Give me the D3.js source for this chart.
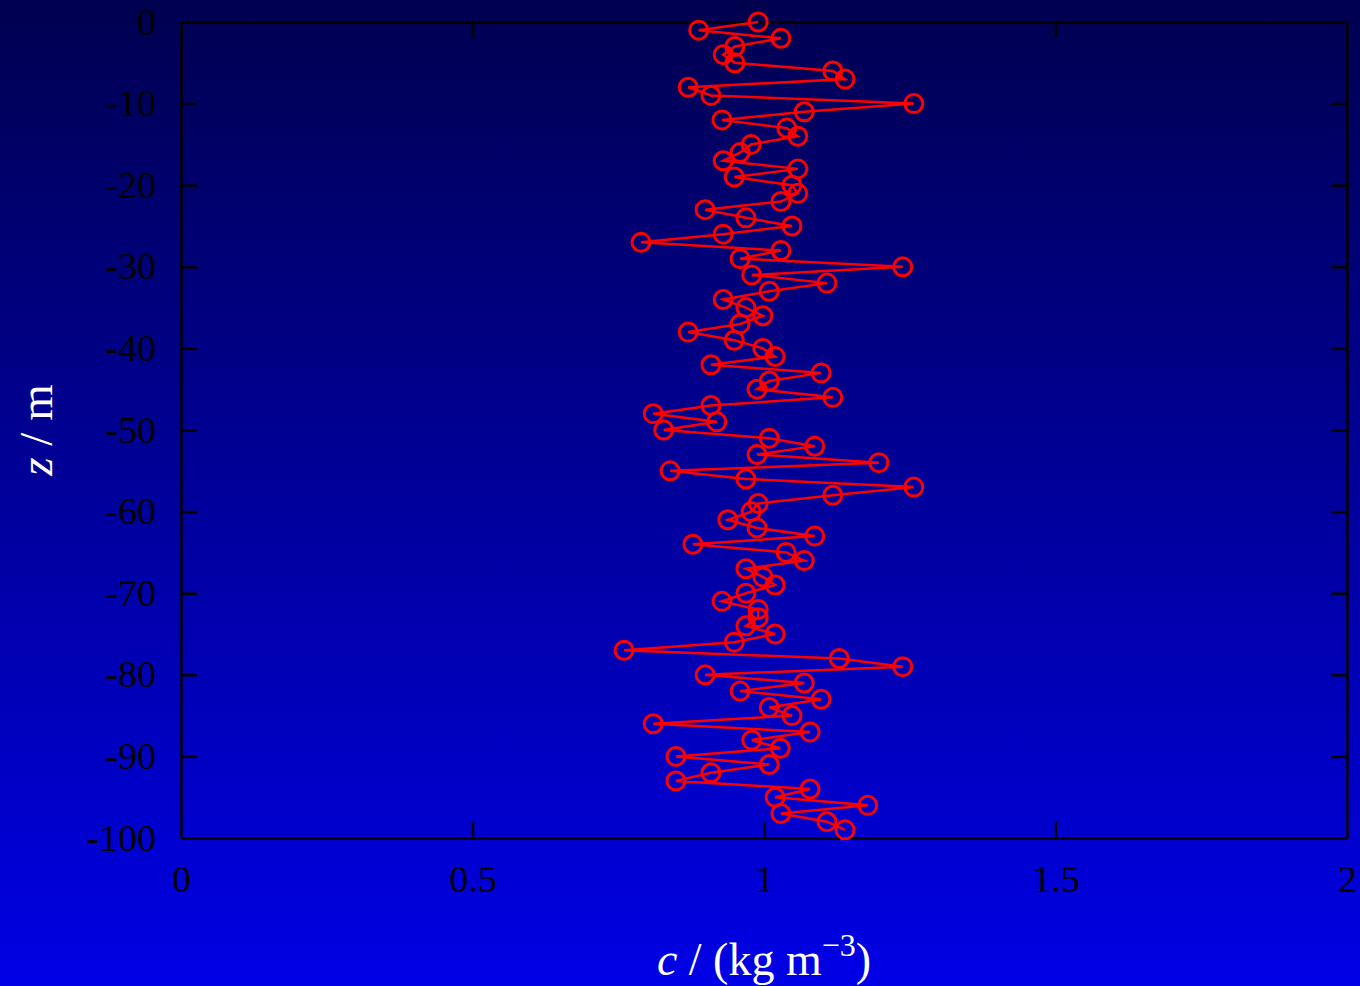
<!DOCTYPE html>
<html>
<head>
<meta charset="utf-8">
<script src="https://cdn.jsdelivr.net/npm/d3@7"></script>
<style>
  html, body { margin: 0; padding: 0; }
  body { width: 1360px; height: 986px; overflow: hidden;
         background: linear-gradient(to bottom, #000050, #0000e6); }
  svg text { font-family: "Liberation Serif", "DejaVu Serif", serif; }
</style>
</head>
<body>
<div id="chart"></div>
<script>
// depth z (m) and concentration c (kg m^-3)
const depth = d3.range(0, -100, -1);
const conc = [
  0.990, 0.888, 1.029, 0.950, 0.930, 0.950, 1.118, 1.139, 0.870, 0.909,
  1.257, 1.069, 0.928, 1.039, 1.058, 0.978, 0.959, 0.930, 1.058, 0.949,
  1.048, 1.058, 1.029, 0.899, 0.969, 1.048, 0.930, 0.789, 1.029, 0.959,
  1.238, 0.979, 1.108, 1.009, 0.930, 0.969, 0.998, 0.959, 0.870, 0.949,
  0.998, 1.019, 0.909, 1.098, 1.009, 0.988, 1.118, 0.909, 0.810, 0.919,
  0.828, 1.009, 1.087, 0.988, 1.197, 0.839, 0.969, 1.257, 1.118, 0.990,
  0.978, 0.938, 0.988, 1.087, 0.878, 1.038, 1.069, 0.969, 0.998, 1.019,
  0.969, 0.928, 0.990, 0.990, 0.969, 1.019, 0.949, 0.760, 1.129, 1.238,
  0.899, 1.069, 0.959, 1.098, 1.009, 1.048, 0.810, 1.079, 0.979, 1.028,
  0.849, 1.009, 0.909, 0.849, 1.079, 1.019, 1.178, 1.029, 1.108, 1.139
];
const xTicks = [0, 0.5, 1, 1.5, 2];
const yTicks = [0, -10, -20, -30, -40, -50, -60, -70, -80, -90, -100];

const data = depth.map((z, i) => ({ z: z, c: conc[i] }));

const width = 1360, height = 986;
const margin = { top: 22, right: 13, bottom: 148, left: 181 };
const w = width - margin.left - margin.right;
const h = height - margin.top - margin.bottom;

const svg = d3.select('#chart')
  .append('svg')
    .attr('width', width)
    .attr('height', height);

const g = svg.append('g')
  .attr('transform', `translate(${margin.left},${margin.top})`);

const x = d3.scaleLinear().domain([0, 2]).range([0, w]);
const y = d3.scaleLinear().domain([-100, 0]).range([h, 0]);

const tickLen = 16;
const fmt = d => String(d);

// x axes (bottom with labels, top ticks only)
g.append('g')
  .attr('transform', `translate(0,${h})`)
  .call(d3.axisBottom(x).tickValues(xTicks).tickFormat(fmt).tickSizeInner(-tickLen).tickSizeOuter(0).tickPadding(27));
g.append('g')
  .call(d3.axisTop(x).tickValues(xTicks).tickFormat('').tickSizeInner(-tickLen).tickSizeOuter(0));

// y axes
g.append('g')
  .call(d3.axisLeft(y).tickValues(yTicks).tickFormat(fmt).tickSizeInner(-tickLen).tickSizeOuter(0).tickPadding(25));
g.append('g')
  .attr('transform', `translate(${w},0)`)
  .call(d3.axisRight(y).tickValues(yTicks).tickFormat('').tickSizeInner(-tickLen).tickSizeOuter(0));

g.selectAll('.domain').attr('stroke', '#000').attr('stroke-width', 2.5);
g.selectAll('.tick line').attr('stroke', '#000').attr('stroke-width', 2.5);
g.selectAll('.tick text')
  .attr('fill', '#000')
  .style('font-size', '38px')
  .style('font-family', '"Liberation Serif", serif');
// hide tick marks at the frame corners
g.selectAll('.tick').filter(d => d === 0 || d === 2 || d === -100).select('line').attr('stroke', 'none');

// line + markers
const line = d3.line().x(d => x(d.c)).y(d => y(d.z));

g.append('path')
  .datum(data)
  .attr('fill', 'none')
  .attr('stroke', '#ff0000')
  .attr('stroke-width', 2.5)
  .attr('d', line);

g.selectAll('circle.pt')
  .data(data)
  .enter().append('circle')
    .attr('class', 'pt')
    .attr('cx', d => x(d.c))
    .attr('cy', d => y(d.z))
    .attr('r', 9)
    .attr('fill', 'none')
    .attr('stroke', '#ff0000')
    .attr('stroke-width', 3);

// axis titles
const xt = svg.append('text')
  .attr('x', margin.left + x(1))
  .attr('y', 975)
  .attr('text-anchor', 'middle')
  .attr('fill', '#fff')
  .style('font-size', '46px');
xt.append('tspan').style('font-style', 'italic').text('c');
xt.append('tspan').text(' / (kg m');
xt.append('tspan').attr('dy', -19).style('font-size', '32px').text('\u22123');
xt.append('tspan').attr('dy', 19).text(')');

const yt = svg.append('text')
  .attr('transform', `translate(52,${margin.top + y(-50)}) rotate(-90)`)
  .attr('text-anchor', 'middle')
  .attr('fill', '#fff')
  .style('font-size', '47px');
yt.append('tspan').style('font-style', 'italic').text('z');
yt.append('tspan').text(' / m');
</script>
</body>
</html>
